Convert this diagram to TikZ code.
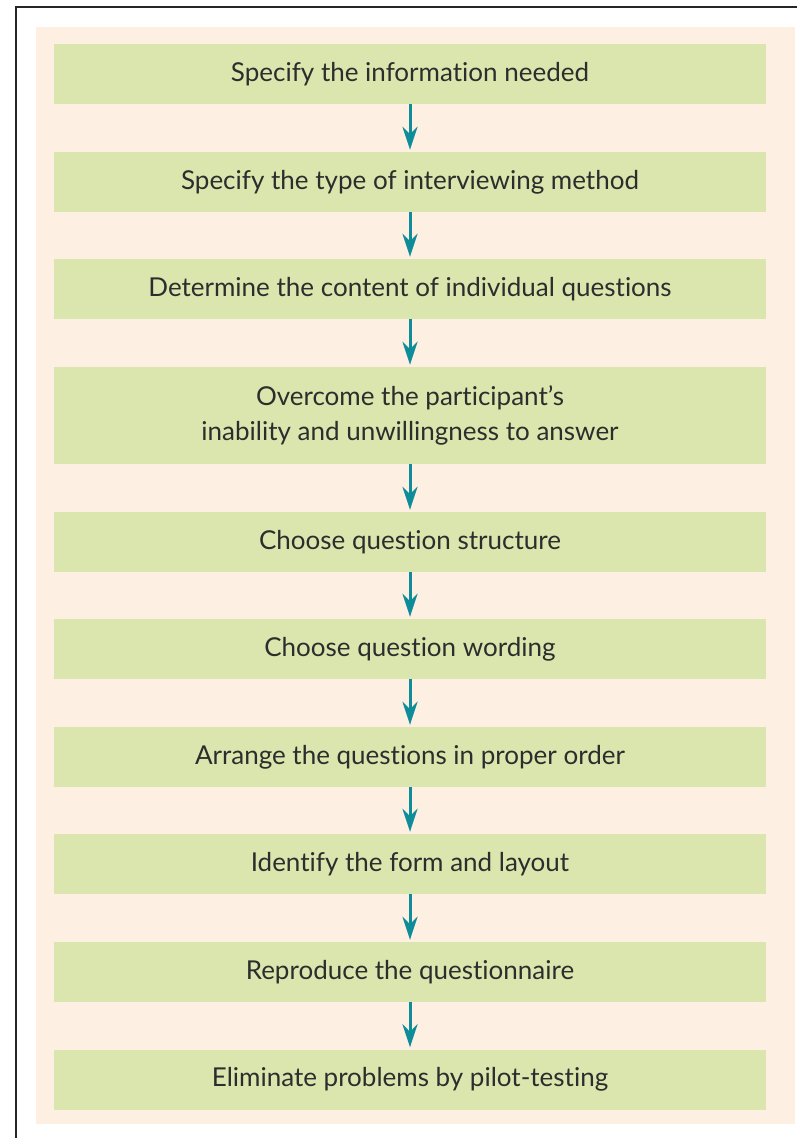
\documentclass[tikz,border=0pt]{standalone}
\usepackage{fontspec}
\setmainfont[Ligatures=NoCommon]{Lato}
\definecolor{cream}{RGB}{253,240,226}
\definecolor{stepgreen}{RGB}{219,230,174}
\definecolor{arrowteal}{RGB}{14,140,153}
\definecolor{textgray}{RGB}{45,45,45}
\usetikzlibrary{arrows.meta,positioning}

\begin{document}
\begin{tikzpicture}[
        x=1pt, y=1pt,
        every node/.style={font=\fontsize{26}{35}\selectfont, text=textgray},
        stepbox/.style={fill=stepgreen, minimum width=712pt, minimum height=60pt, align=center, inner sep=0pt},
        flow/.style={-{Stealth[length=23pt, width=15pt]}, line width=3pt, arrowteal, shorten >=2pt}
      ]
      \useasboundingbox (0,0) rectangle (797,-1138);
      \fill[cream] (36,-27) rectangle (795,-1124);
      \draw[line width=1.5pt, black!85] (16,-1138) -- (16,-7) -- (797,-7);

      \node[stepbox] (info) at (410,-74) {Specify the information needed};
      \node[stepbox] (method) at (410,-182) {Specify the type of interviewing method};
      \node[stepbox] (content) at (410,-289) {Determine the content of individual questions};
      \node[stepbox, minimum height=97pt] (inability) at (410,-415.5) {Overcome the participant’s\\inability and unwillingness to answer};
      \node[stepbox] (structure) at (410,-542) {Choose question structure};
      \node[stepbox] (wording) at (410,-649) {Choose question wording};
      \node[stepbox] (order) at (410,-757) {Arrange the questions in proper order};
      \node[stepbox] (layout) at (410,-864) {Identify the form and layout};
      \node[stepbox] (reproduce) at (410,-972) {Reproduce the questionnaire};
      \node[stepbox] (pilot) at (410,-1079.5) {Eliminate problems by pilot-testing};

      \draw[flow] (info) -- (method);
      \draw[flow] (method) -- (content);
      \draw[flow] (content) -- (inability);
      \draw[flow] (inability) -- (structure);
      \draw[flow] (structure) -- (wording);
      \draw[flow] (wording) -- (order);
      \draw[flow] (order) -- (layout);
      \draw[flow] (layout) -- (reproduce);
      \draw[flow] (reproduce) -- (pilot);
    \end{tikzpicture}
\end{document}
